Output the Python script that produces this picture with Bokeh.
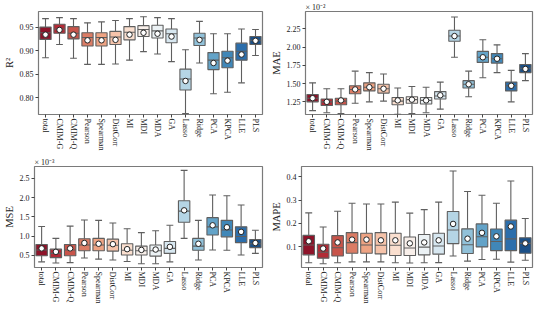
import colorsys
from bokeh.plotting import figure
from bokeh.models import Range1d, FixedTicker, PrintfTickFormatter, ColumnDataSource
from bokeh.layouts import column, row
from bokeh.embed import file_html
from bokeh.resources import INLINE

cats = ["total", "CMIM-G", "CMIM-Q", "Pearson", "Spearman", "DistCorr", "MI", "MDI",
        "MDA", "GA", "Lasso", "Ridge", "PCA", "KPCA", "LLE", "PLS"]

# R^2
r2_low = [0.885, 0.913, 0.884, 0.871, 0.871, 0.872, 0.880, 0.898, 0.893, 0.877, 0.767, 0.874, 0.809, 0.812, 0.832, 0.890]
r2_q1 = [0.924, 0.937, 0.925, 0.910, 0.910, 0.913, 0.923, 0.930, 0.927, 0.917, 0.817, 0.911, 0.860, 0.864, 0.880, 0.913]
r2_med = [0.938, 0.946, 0.937, 0.928, 0.928, 0.929, 0.939, 0.945, 0.942, 0.936, 0.840, 0.927, 0.880, 0.885, 0.899, 0.922]
r2_q3 = [0.950, 0.956, 0.951, 0.938, 0.938, 0.941, 0.951, 0.953, 0.954, 0.946, 0.861, 0.937, 0.896, 0.899, 0.916, 0.930]
r2_high = [0.968, 0.970, 0.968, 0.959, 0.961, 0.964, 0.968, 0.972, 0.970, 0.968, 0.902, 0.962, 0.936, 0.936, 0.946, 0.945]
r2_mean = [0.934, 0.944, 0.934, 0.922, 0.922, 0.923, 0.934, 0.938, 0.936, 0.930, 0.836, 0.923, 0.874, 0.879, 0.892, 0.921]

# MAE (x 1e-2)
mae_low = [1.13, 1.10, 1.09, 1.23, 1.25, 1.26, 1.08, 1.09, 1.10, 1.15, 1.86, 1.32, 1.58, 1.65, 1.25, 1.54]
mae_q1 = [1.25, 1.20, 1.21, 1.36, 1.40, 1.37, 1.21, 1.23, 1.22, 1.29, 2.08, 1.44, 1.79, 1.78, 1.40, 1.65]
mae_med = [1.30, 1.25, 1.26, 1.42, 1.45, 1.43, 1.26, 1.28, 1.27, 1.33, 2.15, 1.49, 1.86, 1.84, 1.47, 1.71]
mae_q3 = [1.35, 1.29, 1.30, 1.47, 1.51, 1.49, 1.31, 1.32, 1.31, 1.39, 2.23, 1.54, 1.94, 1.91, 1.52, 1.76]
mae_high = [1.51, 1.43, 1.43, 1.67, 1.65, 1.63, 1.44, 1.46, 1.45, 1.52, 2.41, 1.67, 2.10, 2.03, 1.68, 1.91]
mae_mean = [1.30, 1.25, 1.27, 1.42, 1.45, 1.43, 1.27, 1.28, 1.27, 1.34, 2.15, 1.49, 1.86, 1.84, 1.47, 1.70]

# MSE (x 1e-3)
mse_low = [0.33, 0.30, 0.31, 0.43, 0.40, 0.38, 0.34, 0.28, 0.28, 0.33, 0.94, 0.38, 0.64, 0.63, 0.51, 0.55]
mse_q1 = [0.49, 0.44, 0.49, 0.62, 0.62, 0.61, 0.51, 0.51, 0.48, 0.55, 1.36, 0.63, 1.03, 0.98, 0.83, 0.70]
mse_med = [0.64, 0.55, 0.64, 0.77, 0.77, 0.76, 0.63, 0.62, 0.62, 0.68, 1.65, 0.74, 1.24, 1.16, 0.99, 0.80]
mse_q3 = [0.78, 0.66, 0.78, 0.93, 0.94, 0.92, 0.80, 0.74, 0.77, 0.86, 1.92, 0.94, 1.48, 1.41, 1.24, 0.91]
mse_high = [1.25, 0.94, 1.26, 1.42, 1.41, 1.34, 1.19, 1.09, 1.14, 1.28, 2.71, 1.41, 2.07, 2.05, 1.81, 1.15]
mse_mean = [0.68, 0.59, 0.68, 0.82, 0.80, 0.79, 0.66, 0.64, 0.65, 0.72, 1.67, 0.80, 1.28, 1.23, 1.11, 0.82]

# MAPE
mape_low = [0.032, 0.028, 0.032, 0.036, 0.036, 0.036, 0.032, 0.031, 0.032, 0.033, 0.061, 0.039, 0.046, 0.047, 0.035, 0.043]
mape_q1 = [0.066, 0.052, 0.061, 0.073, 0.073, 0.070, 0.063, 0.063, 0.066, 0.069, 0.114, 0.072, 0.100, 0.084, 0.084, 0.073]
mape_med = [0.108, 0.077, 0.096, 0.118, 0.108, 0.107, 0.107, 0.095, 0.099, 0.104, 0.172, 0.109, 0.143, 0.123, 0.134, 0.115]
mape_q3 = [0.149, 0.111, 0.148, 0.161, 0.158, 0.161, 0.158, 0.142, 0.153, 0.158, 0.251, 0.177, 0.198, 0.176, 0.214, 0.139]
mape_high = [0.245, 0.185, 0.252, 0.286, 0.283, 0.283, 0.291, 0.244, 0.259, 0.291, 0.424, 0.336, 0.320, 0.286, 0.381, 0.221]
mape_mean = [0.124, 0.093, 0.119, 0.131, 0.131, 0.128, 0.128, 0.115, 0.119, 0.128, 0.198, 0.135, 0.160, 0.145, 0.187, 0.115]

# RdBu palette (16 colours, seaborn-style sampling)
rdbu = ["#67001f", "#b2182b", "#d6604d", "#f4a582", "#fddbc7", "#f7f7f7",
        "#d1e5f0", "#92c5de", "#4393c3", "#2166ac", "#053061"]


def hex2rgb(h):
    return [int(h[i:i + 2], 16) / 255 for i in (1, 3, 5)]


def sample(pos):
    seg = pos * 10
    i = min(int(seg), 9)
    t = seg - i
    a, b = hex2rgb(rdbu[i]), hex2rgb(rdbu[i + 1])
    rgb = [a[k] + (b[k] - a[k]) * t for k in range(3)]
    h, l, s = colorsys.rgb_to_hls(*rgb)
    rgb = colorsys.hls_to_rgb(h, l, s * 0.92)
    return "#%02x%02x%02x" % tuple(int(round(c * 255)) for c in rgb)


n = len(cats)
colors = [sample((k + 1) / (n + 1)) for k in range(n)]

FONT = "Liberation Serif"
EDGE = "#5f5f5f"


def make_panel(low, q1, med, q3, high, mean, ylab, yr, ticks, fmt, width, height,
               bl, br, bt, bb, offset_text=None):
    p = figure(width=width, height=height, output_backend="svg", toolbar_location=None,
               x_range=Range1d(-0.5, n - 0.5), y_range=Range1d(*yr),
               min_border_left=bl, min_border_right=br, min_border_top=bt, min_border_bottom=bb)
    xs = list(range(n))
    src = ColumnDataSource(dict(x=xs, low=low, q1=q1, med=med, q3=q3, high=high, mean=mean,
                                c=colors,
                                cl=[i - 0.24 for i in xs], cr=[i + 0.24 for i in xs],
                                bl=[i - 0.4 for i in xs], br=[i + 0.4 for i in xs]))
    p.segment(x0="x", y0="q3", x1="x", y1="high", source=src, line_color=EDGE, line_width=1.1)
    p.segment(x0="x", y0="q1", x1="x", y1="low", source=src, line_color=EDGE, line_width=1.1)
    p.segment(x0="cl", y0="high", x1="cr", y1="high", source=src, line_color=EDGE, line_width=1.1)
    p.segment(x0="cl", y0="low", x1="cr", y1="low", source=src, line_color=EDGE, line_width=1.1)
    p.vbar(x="x", top="q3", bottom="q1", width=0.8, source=src, fill_color="c",
           line_color=EDGE, line_width=1.1)
    p.segment(x0="bl", y0="med", x1="br", y1="med", source=src, line_color=EDGE, line_width=1.1)
    p.scatter(x="x", y="mean", source=src, marker="circle", size=5.5, fill_color="white",
              line_color="#222222", line_width=1.0)

    p.xgrid.visible = False
    p.ygrid.visible = False
    p.outline_line_color = "#7a7a7a"
    p.outline_line_width = 1.2
    p.background_fill_color = "white"
    p.border_fill_color = "white"

    p.xaxis.ticker = FixedTicker(ticks=xs)
    p.xaxis.major_label_overrides = {i: c for i, c in enumerate(cats)}
    p.xaxis.major_label_orientation = "vertical"
    p.yaxis.ticker = FixedTicker(ticks=ticks)
    p.yaxis.formatter = PrintfTickFormatter(format=fmt)
    for ax in (p.xaxis[0], p.yaxis[0]):
        ax.axis_line_color = None
        ax.major_tick_in = 0
        ax.major_tick_out = 3
        ax.major_tick_line_color = "#444444"
        ax.minor_tick_line_color = None
        ax.major_label_text_font = FONT
        ax.major_label_text_font_size = "8px"
        ax.major_label_text_color = "#222222"
        ax.major_label_standoff = 2
    p.xaxis.major_label_standoff = 1
    p.yaxis.axis_label = ylab
    p.yaxis.axis_label_text_font = FONT
    p.yaxis.axis_label_text_font_size = "10.5px"
    p.yaxis.axis_label_text_font_style = "normal"
    p.yaxis.axis_label_text_color = "#222222"
    p.yaxis.axis_label_standoff = 2
    if offset_text:
        p.title.text = offset_text
        p.title.align = "left"
        p.title.text_font = FONT
        p.title.text_font_size = "8px"
        p.title.text_font_style = "normal"
        p.title.text_color = "#222222"
        p.title.text_line_height = 1.0
        p.title.standoff = 0
        p.title.offset = 0
    return p


p1 = make_panel(r2_low, r2_q1, r2_med, r2_q3, r2_high, r2_mean, "R²",
                (0.765, 0.983), [0.80, 0.85, 0.90, 0.95], "%.2f",
                267, 153, 27, 5, 8, 35)
p2 = make_panel(mae_low, mae_q1, mae_med, mae_q3, mae_high, mae_mean, "MAE",
                (1.077, 2.486), [1.25, 1.50, 1.75, 2.00, 2.25], "%.2f",
                267, 153, 34, 2, 8, 35, offset_text="× 10⁻²")
p3 = make_panel(mse_low, mse_q1, mse_med, mse_q3, mse_high, mse_mean, "MSE",
                (0.183, 2.81), [0.5, 1.0, 1.5, 2.0, 2.5], "%.1f",
                267, 153, 27, 5, 13, 35, offset_text="× 10⁻³")
p4 = make_panel(mape_low, mape_q1, mape_med, mape_q3, mape_high, mape_mean, "MAPE",
                (0.012, 0.443), [0.1, 0.2, 0.3, 0.4], "%.1f",
                267, 153, 34, 2, 13, 35)

layout = column(row(p1, p2), row(p3, p4))

open("out.html", "w").write(file_html(layout, INLINE))
